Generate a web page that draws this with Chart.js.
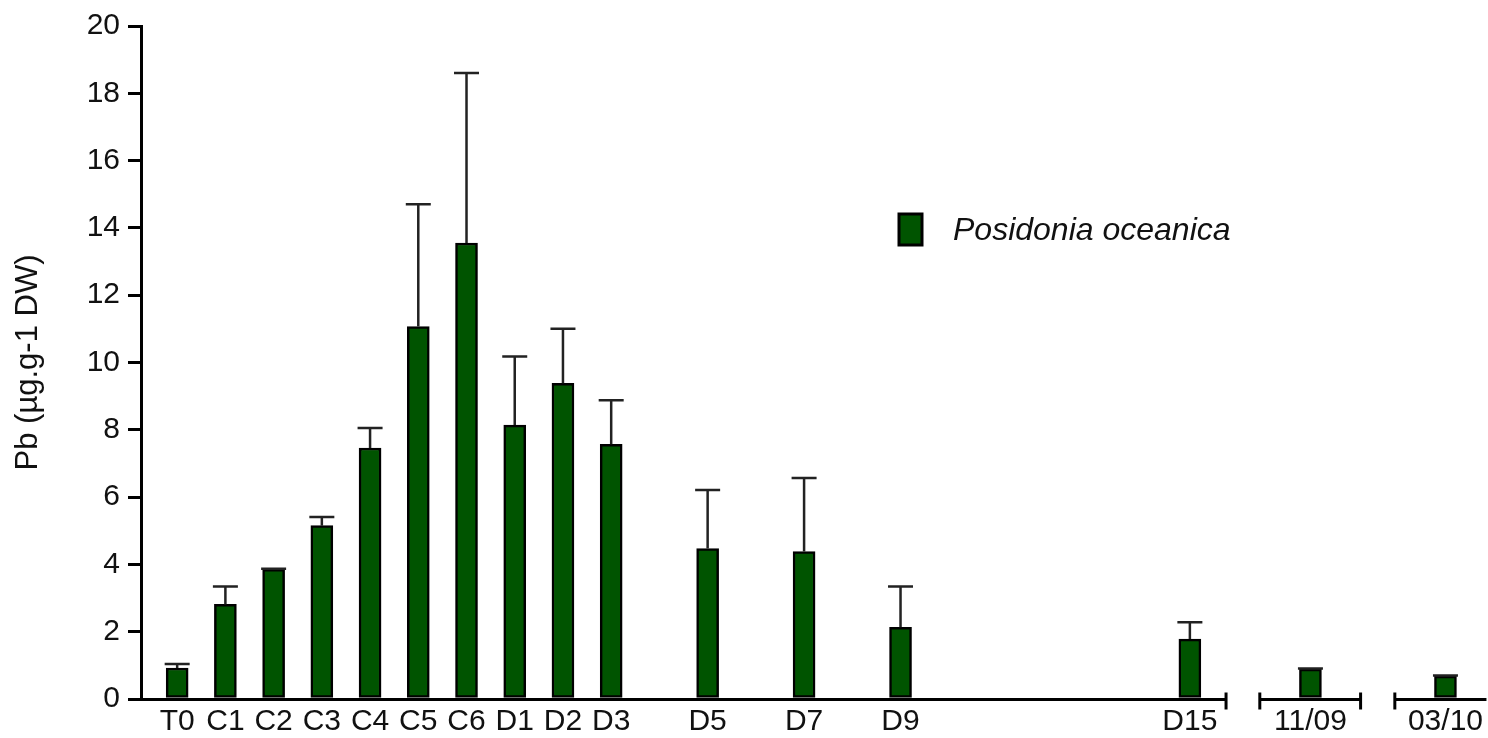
<!DOCTYPE html>
<html lang="en">
<head>
  <meta charset="UTF-8">
  <title>Pb - Posidonia oceanica</title>
  <script src="https://cdn.jsdelivr.net/npm/chart.js"></script>
  <style>
    html, body { margin: 0; padding: 0; background: #fff; }
    #pbChart { display: block; }
  </style>
</head>
<body>
  <canvas id="pbChart" width="1488" height="738"></canvas>

  <script>
    // sampling labels and their place on the time axis (days)
    const categories = ['T0', 'C1', 'C2', 'C3', 'C4', 'C5', 'C6', 'D1', 'D2', 'D3', 'D5', 'D7', 'D9', 'D15', '11/09', '03/10'];
    const positions = [0, 1, 2, 3, 4, 5, 6, 7, 8, 9, 11, 13, 15, 21, 23.5, 26.3];

    // mean Pb and standard deviation (µg.g-1 DW)
    const means = [0.92, 2.81, 3.85, 5.15, 7.46, 11.07, 13.55, 8.14, 9.38, 7.57, 4.47, 4.38, 2.13, 1.78, 0.89, 0.68];
    const sds = [0.12, 0.53, 0.02, 0.26, 0.59, 3.63, 5.05, 2.04, 1.62, 1.31, 1.74, 2.19, 1.21, 0.50, 0.02, 0.02];

    // broken x axis: pieces of the axis line
    const axisPieces = [[-0.75, 21.75], [22.45, 24.54], [25.25, 27.15]];

    const barFill = '#005400';
    const inkColor = '#111';
    const fontFamily = '"Liberation Sans", Arial, sans-serif';

    // error bars (upper side only) with a cap
    const errorBars = {
      id: 'errorBars',
      afterDatasetsDraw(chart) {
        const ctx = chart.ctx;
        const y = chart.scales.y;
        const meta = chart.getDatasetMeta(0);
        ctx.save();
        ctx.strokeStyle = '#222';
        ctx.lineWidth = 2.5;
        meta.data.forEach((bar, i) => {
          const top = y.getPixelForValue(means[i]);
          const hi = y.getPixelForValue(means[i] + sds[i]);
          ctx.beginPath();
          ctx.moveTo(bar.x, top);
          ctx.lineTo(bar.x, hi);
          ctx.moveTo(bar.x - 12.5, hi);
          ctx.lineTo(bar.x + 12.5, hi);
          ctx.stroke();
        });
        ctx.restore();
      }
    };

    // x axis drawn in pieces with end caps at the breaks
    const brokenAxis = {
      id: 'brokenAxis',
      afterDatasetsDraw(chart) {
        const ctx = chart.ctx;
        const x = chart.scales.x;
        const area = chart.chartArea;
        const yb = area.bottom + 0.5;
        ctx.save();
        ctx.strokeStyle = '#000';
        ctx.lineWidth = 3;
        axisPieces.forEach(([a, b]) => {
          const x0 = Math.max(x.getPixelForValue(a), area.left);
          const x1 = Math.min(x.getPixelForValue(b), area.right + 5);
          ctx.beginPath();
          ctx.moveTo(x0, yb);
          ctx.lineTo(x1, yb);
          ctx.stroke();
          [[a, x0], [b, x1]].forEach(([v, px]) => {
            if (v > x.min && v < x.max) {
              ctx.beginPath();
              ctx.moveTo(px, yb - 7);
              ctx.lineTo(px, yb + 10);
              ctx.stroke();
            }
          });
        });
        ctx.restore();
      }
    };

    // legend placed inside the plot
    const insideLegend = {
      id: 'insideLegend',
      afterDraw(chart) {
        const ctx = chart.ctx;
        ctx.save();
        ctx.fillStyle = barFill;
        ctx.fillRect(899, 214, 23, 31);
        ctx.strokeStyle = '#000';
        ctx.lineWidth = 3;
        ctx.strokeRect(899, 214, 23, 31);
        ctx.fillStyle = inkColor;
        ctx.font = 'italic 32px ' + fontFamily;
        ctx.textBaseline = 'middle';
        ctx.fillText(chart.data.datasets[0].label, 953, 231);
        ctx.restore();
      }
    };

    const ctx = document.getElementById('pbChart').getContext('2d');
    new Chart(ctx, {
      type: 'bar',
      data: {
        datasets: [{
          label: 'Posidonia oceanica',
          data: positions.map((p, i) => ({ x: p, y: means[i] })),
          backgroundColor: barFill,
          borderColor: '#000',
          borderWidth: 2.5,
          borderSkipped: false,
          barThickness: 22
        }]
      },
      options: {
        responsive: false,
        animation: false,
        layout: { padding: { top: 23, right: 0, bottom: 0, left: 0 } },
        plugins: {
          legend: { display: false },
          tooltip: { enabled: false }
        },
        scales: {
          x: {
            type: 'linear',
            min: -0.75,
            max: 27.15,
            offset: false,
            grid: { display: false, drawTicks: false },
            border: { display: false },
            afterBuildTicks: (scale) => {
              scale.ticks = positions.map(p => ({ value: p }));
            },
            afterFit: (scale) => { scale.height = 39; },
            ticks: {
              autoSkip: false,
              maxRotation: 0,
              padding: 5,
              color: inkColor,
              font: { family: fontFamily, size: 30 },
              callback: (value, index) => categories[index]
            }
          },
          y: {
            min: 0,
            max: 20,
            afterFit: (scale) => { scale.width = 141; },
            grid: {
              drawOnChartArea: false,
              drawTicks: true,
              tickLength: 13,
              lineWidth: 3,
              color: '#000'
            },
            border: { display: true, color: '#000', width: 3 },
            ticks: {
              stepSize: 2,
              padding: 8,
              color: inkColor,
              font: { family: fontFamily, size: 30 }
            },
            title: {
              display: true,
              text: 'Pb (µg.g-1 DW)',
              color: inkColor,
              padding: { top: 10, bottom: 0 },
              font: { family: fontFamily, size: 31 }
            }
          }
        }
      },
      plugins: [errorBars, brokenAxis, insideLegend]
    });
  </script>
</body>
</html>
